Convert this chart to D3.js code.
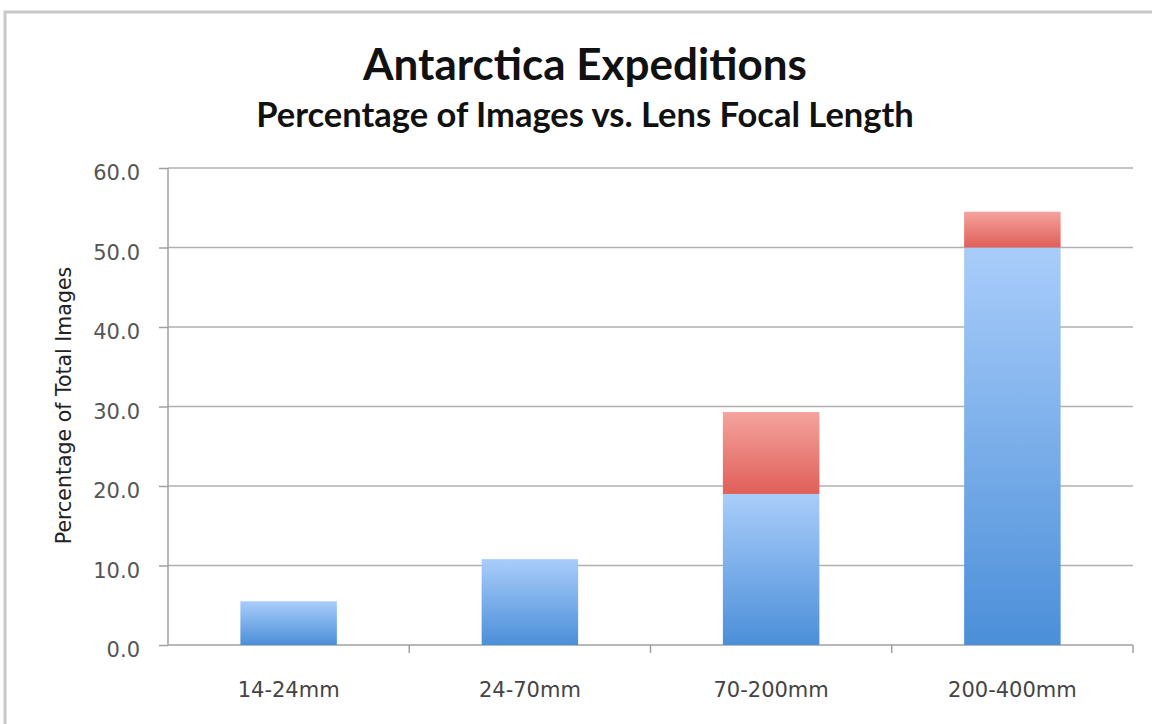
<!DOCTYPE html>
<html><head><meta charset="utf-8">
<script src="https://cdn.jsdelivr.net/npm/d3@7/dist/d3.min.js"></script>
<style>body{margin:0;background:#fff;}svg{display:block;}</style>
</head><body>
<svg id="chart" width="1152" height="724"></svg>
<script>
const categories = ["14-24mm", "24-70mm", "70-200mm", "200-400mm"];
const seriesBlue = [5.5, 10.8, 19.0, 50.0];
const seriesRed = [0, 0, 10.3, 4.5];
const yTicks = [0, 10, 20, 30, 40, 50, 60];
const title = "Antarctica Expeditions";
const subtitle = "Percentage of Images vs. Lens Focal Length";
const yLabel = "Percentage of Total Images";

(function () {
const svg = d3.select("#chart");
const font = "Lato, 'Open Sans', sans-serif";
const tickFont = "'DejaVu Sans', sans-serif";

// outer frame
svg.append("rect").attr("x", 5).attr("y", 12).attr("width", 1160).attr("height", 730)
  .attr("fill", "none").attr("stroke", "#c8c8c8").attr("stroke-width", 3);

const pl = 168, pr = 1133, pt = 168, pb = 645;
const x = d3.scaleBand().domain(categories).range([pl, pr]).paddingInner(0.6).paddingOuter(0.3);
const xb = d3.scaleBand().domain(categories).range([pl, pr]);
const y = d3.scaleLinear().domain([0, 60]).range([pb, pt]);

const defs = svg.append("defs");
function grad(id, c1, c2) {
  const g = defs.append("linearGradient").attr("id", id).attr("x1", 0).attr("y1", 0).attr("x2", 0).attr("y2", 1);
  g.append("stop").attr("offset", "0%").attr("stop-color", c1);
  g.append("stop").attr("offset", "100%").attr("stop-color", c2);
}
grad("gBlue", "#a9cdfa", "#4b8fd9");
grad("gRed", "#f5a39d", "#df5f58");

// gridlines
svg.append("g").selectAll("line").data(yTicks.filter(d => d > 0)).join("line")
  .attr("x1", pl).attr("x2", pr).attr("y1", d => y(d)).attr("y2", d => y(d))
  .attr("stroke", "#b0b0b0").attr("stroke-width", 1.5);

// y axis
const yAxis = d3.axisLeft(y).tickValues(yTicks).tickFormat(d3.format(".1f")).tickSize(9).tickPadding(19);
const ya = svg.append("g").attr("transform", `translate(${pl},0)`).call(yAxis);
ya.select(".domain").attr("stroke", "#a0a0a0").attr("stroke-width", 1.5).attr("d", `M0,${pt}V${pb}`);
ya.selectAll(".tick line").attr("stroke", "#a0a0a0").attr("stroke-width", 1.5);
ya.selectAll(".tick text").attr("font-family", tickFont).attr("font-size", 21).attr("fill", "#555").attr("dy", "0.55em");

// x axis
const xa = svg.append("g").attr("transform", `translate(0,${pb})`);
xa.append("line").attr("x1", pl).attr("x2", pr).attr("stroke", "#a0a0a0").attr("stroke-width", 1.5);
xa.selectAll(".tk").data(categories).join("line").attr("class", "tk")
  .attr("x1", d => xb(d) + xb.bandwidth()).attr("x2", d => xb(d) + xb.bandwidth())
  .attr("y1", 0).attr("y2", 8).attr("stroke", "#a0a0a0").attr("stroke-width", 1.5);
xa.selectAll("text").data(categories).join("text")
  .attr("x", d => xb(d) + xb.bandwidth() / 2).attr("y", 52)
  .attr("text-anchor", "middle").attr("font-family", tickFont).attr("font-size", 21).attr("fill", "#444")
  .text(d => d);

// bars
svg.append("g").selectAll("rect").data(categories).join("rect")
  .attr("x", d => x(d)).attr("width", x.bandwidth())
  .attr("y", (d, i) => y(seriesBlue[i])).attr("height", (d, i) => y(0) - y(seriesBlue[i]))
  .attr("fill", "url(#gBlue)");
svg.append("g").selectAll("rect").data(categories.filter((d, i) => seriesRed[i] > 0)).join("rect")
  .attr("x", d => x(d)).attr("width", x.bandwidth())
  .attr("y", d => { const i = categories.indexOf(d); return y(seriesBlue[i] + seriesRed[i]); })
  .attr("height", d => { const i = categories.indexOf(d); return y(seriesBlue[i]) - y(seriesBlue[i] + seriesRed[i]); })
  .attr("fill", "url(#gRed)");

// titles
svg.append("text").attr("x", 585).attr("y", 80).attr("text-anchor", "middle")
  .attr("font-family", font).attr("font-weight", "bold").attr("font-size", 44).attr("fill", "#111").text(title);
svg.append("text").attr("x", 585).attr("y", 127).attr("text-anchor", "middle")
  .attr("font-family", font).attr("font-weight", "bold").attr("font-size", 34.5).attr("fill", "#111").text(subtitle);

svg.append("text").attr("transform", `translate(71,${(pt + pb) / 2 - 1}) rotate(-90)`)
  .attr("text-anchor", "middle").attr("font-family", tickFont).attr("font-size", 20.5).attr("fill", "#222").text(yLabel);
})();
</script>
</body></html>
